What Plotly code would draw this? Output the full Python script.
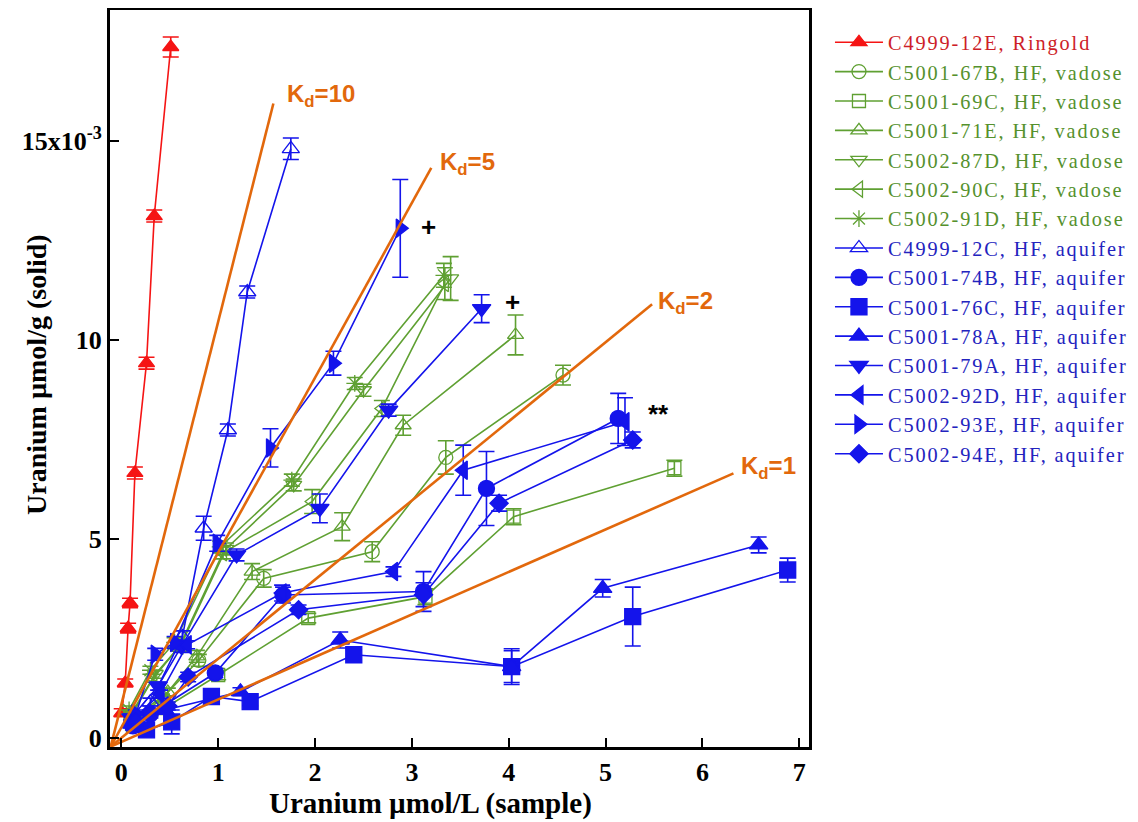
import plotly.graph_objects as go

# ---------------- data (solid U in units of 1e-3 umol/g) ----------------
x_12E = [0.004, 0.04, 0.07, 0.09, 0.14, 0.26, 0.34, 0.51]
y_12E = [0.63, 1.38, 2.76, 3.39, 6.66, 9.42, 13.12, 17.37]
e_12E = [0.10, 0.10, 0.12, 0.12, 0.15, 0.15, 0.15, 0.25]

x_67B = [0.15, 0.42, 0.80, 1.47, 2.59, 3.35, 4.56]
y_67B = [0.45, 1.00, 1.95, 4.01, 4.68, 7.05, 9.12]
e_67B = [0.10, 0.10, 0.15, 0.22, 0.25, 0.42, 0.25]

x_69C = [0.12, 0.45, 1.00, 1.93, 3.14, 4.05, 5.71]
y_69C = [0.30, 0.75, 1.58, 3.01, 3.55, 5.56, 6.78]
e_69C = [0.10, 0.10, 0.12, 0.12, 0.20, 0.20, 0.20]

x_71E = [0.13, 0.48, 0.78, 1.35, 2.28, 2.91, 4.07]
y_71E = [0.50, 1.15, 2.05, 4.18, 5.31, 7.86, 10.13]
e_71E = [0.10, 0.10, 0.15, 0.20, 0.35, 0.25, 0.50]

x_87D = [0.10, 0.35, 0.62, 1.08, 1.78, 2.50, 3.40]
y_87D = [0.60, 1.60, 2.35, 4.75, 6.36, 8.74, 11.55]
e_87D = [0.10, 0.10, 0.12, 0.15, 0.15, 0.15, 0.55]

x_90C = [0.10, 0.33, 0.60, 1.05, 1.97, 2.69, 3.34]
y_90C = [0.55, 1.50, 2.30, 4.65, 5.94, 8.28, 11.42]
e_90C = [0.10, 0.10, 0.12, 0.15, 0.30, 0.20, 0.40]

x_91D = [0.08, 0.30, 0.55, 1.02, 1.76, 2.41, 3.33]
y_91D = [0.70, 1.70, 2.40, 4.80, 6.48, 8.91, 11.63]
e_91D = [0.10, 0.10, 0.12, 0.15, 0.15, 0.15, 0.30]

x_12C = [0.12, 0.30, 0.63, 0.85, 1.10, 1.30, 1.75]
y_12C = [0.40, 0.90, 2.54, 5.27, 7.74, 11.21, 14.81]
e_12C = [0.10, 0.10, 0.15, 0.30, 0.15, 0.15, 0.27]

x_74B = [0.12, 0.30, 0.97, 1.67, 3.12, 3.77, 5.13]
y_74B = [0.30, 0.60, 1.63, 3.59, 3.68, 6.27, 8.03]
e_74B = [0.10, 0.10, 0.12, 0.20, 0.50, 0.93, 0.63]

x_76C = [0.26, 0.52, 0.93, 1.33, 2.40, 4.03, 5.28, 6.88]
y_76C = [0.20, 0.40, 1.04, 0.91, 2.09, 1.79, 3.05, 4.22]
e_76C = [0.10, 0.30, 0.10, 0.10, 0.12, 0.45, 0.74, 0.30]

x_78A = [0.10, 0.45, 1.23, 2.26, 4.03, 4.97, 6.58]
y_78A = [0.35, 0.70, 1.16, 2.46, 1.79, 3.76, 4.85]
e_78A = [0.10, 0.10, 0.10, 0.20, 0.40, 0.22, 0.20]

x_79A = [0.10, 0.38, 0.62, 1.19, 2.05, 2.76, 3.72]
y_79A = [0.50, 1.30, 2.30, 4.60, 5.77, 8.24, 10.79]
e_79A = [0.10, 0.10, 0.15, 0.15, 0.36, 0.15, 0.35]

x_92D = [0.12, 0.40, 0.68, 1.66, 2.81, 3.53, 5.20]
y_92D = [0.45, 1.10, 2.34, 3.64, 4.18, 6.73, 7.95]
e_92D = [0.10, 0.10, 0.10, 0.20, 0.12, 0.63, 0.60]

x_93E = [0.15, 0.35, 0.55, 0.99, 1.54, 2.19, 2.88]
y_93E = [0.60, 2.10, 2.40, 4.89, 7.29, 9.42, 12.81]
e_93E = [0.10, 0.15, 0.15, 0.20, 0.48, 0.30, 1.23]

x_94E = [0.15, 0.48, 0.69, 1.83, 3.12, 3.90, 5.28]
y_94E = [0.40, 0.80, 1.53, 3.22, 3.60, 5.90, 7.49]
e_94E = [0.10, 0.10, 0.12, 0.12, 0.30, 0.20, 0.20]

names = ["C4999-12E, Ringold",
         "C5001-67B, HF, vadose", "C5001-69C, HF, vadose", "C5001-71E, HF, vadose",
         "C5002-87D, HF, vadose", "C5002-90C, HF, vadose", "C5002-91D, HF, vadose",
         "C4999-12C, HF, aquifer", "C5001-74B, HF, aquifer", "C5001-76C, HF, aquifer",
         "C5001-78A, HF, aquifer", "C5001-79A, HF, aquifer", "C5002-92D, HF, aquifer",
         "C5002-93E, HF, aquifer", "C5002-94E, HF, aquifer"]

# Kd reference lines (from plot corner to end point)
kd_values = [10, 5, 2, 1]
kd_start_x = [-0.11, -0.11, -0.11, -0.11]
kd_start_y = [-0.22, -0.22, -0.22, -0.22]
kd_end_x = [1.57, 3.20, 5.48, 6.32]
kd_end_y = [15.95, 14.33, 10.90, 6.65]
kd_label_x = [1.69, 3.27, 5.52, 6.38]
kd_label_y = [16.15, 14.45, 10.95, 6.80]

# note marks
note_text = ["+", "+", "**"]
note_x = [3.07, 3.94, 5.42]
note_y = [12.85, 10.95, 8.15]

x_ticks = [0, 1, 2, 3, 4, 5, 6, 7]
y_ticks = [0, 5, 10, 15]
y_ticktext = ["0", "5", "10", "15x10<sup>-3</sup>"]

x_title = "Uranium µmol/L (sample)"
y_title = "Uranium µmol/g (solid)"

# ---------------- styling ----------------
RED = "rgb(245,20,20)"
GREEN = "rgb(95,160,50)"
BLUE = "rgb(20,20,235)"
ORANGE = "rgb(226,104,12)"
TXT = {RED: "rgb(205,30,40)", GREEN: "rgb(85,145,45)", BLUE: "rgb(35,35,190)"}
SERIF = "Liberation Serif, Times New Roman, serif"
SANS = "Liberation Sans, Arial, sans-serif"

series = [
    (x_12E, y_12E, e_12E, RED, "triangle-up", 14),
    (x_67B, y_67B, e_67B, GREEN, "circle-open", 14),
    (x_69C, y_69C, e_69C, GREEN, "square-open", 13),
    (x_71E, y_71E, e_71E, GREEN, "triangle-up-open", 14),
    (x_87D, y_87D, e_87D, GREEN, "triangle-down-open", 14),
    (x_90C, y_90C, e_90C, GREEN, "triangle-left-open", 14),
    (x_91D, y_91D, e_91D, GREEN, "asterisk-open", 14),
    (x_12C, y_12C, e_12C, BLUE, "triangle-up-open", 15),
    (x_74B, y_74B, e_74B, BLUE, "circle", 16),
    (x_76C, y_76C, e_76C, BLUE, "square", 16),
    (x_78A, y_78A, e_78A, BLUE, "triangle-up", 16),
    (x_79A, y_79A, e_79A, BLUE, "triangle-down", 16),
    (x_92D, y_92D, e_92D, BLUE, "triangle-left", 16),
    (x_93E, y_93E, e_93E, BLUE, "triangle-right", 16),
    (x_94E, y_94E, e_94E, BLUE, "diamond", 14),
]

fig = go.Figure()
for (xs, ys, es, col, sym, sz), nm in zip(series, names):
    fig.add_trace(go.Scatter(
        x=xs, y=ys, mode="lines+markers",
        name='<span style="color:%s;letter-spacing:1.9px">%s</span>' % (TXT[col], nm),
        line=dict(color=col, width=1.6),
        marker=dict(symbol=sym, size=sz, color=col,
                    line=dict(color=col, width=1.3)),
        error_y=dict(type="data", array=es, visible=True, color=col,
                     thickness=1.6, width=8),
    ))

for i, kd in enumerate(kd_values):
    fig.add_trace(go.Scatter(
        x=[kd_start_x[i], kd_end_x[i]], y=[kd_start_y[i], kd_end_y[i]],
        mode="lines", line=dict(color=ORANGE, width=2.6),
        showlegend=False, hoverinfo="skip"))
    fig.add_annotation(x=kd_label_x[i], y=kd_label_y[i], xref="x", yref="y",
                       text="K<sub>d</sub>=%d" % kd, showarrow=False,
                       xanchor="left", yanchor="middle",
                       font=dict(family=SANS, size=24, color=ORANGE, weight="bold"))

for t, nx, ny in zip(note_text, note_x, note_y):
    fig.add_annotation(x=nx, y=ny, xref="x", yref="y", text="<b>%s</b>" % t,
                       showarrow=False, xanchor="left", yanchor="middle",
                       font=dict(family=SANS, size=26, color="black"))

# axis titles as annotations (positioned like the reference)
fig.add_annotation(x=0.458, y=-0.076, xref="paper", yref="paper", text=x_title,
                   showarrow=False, xanchor="center", yanchor="middle",
                   font=dict(family=SERIF, size=29, color="black", weight="bold"))
fig.add_annotation(x=-0.106, y=0.506, xref="paper", yref="paper", text=y_title,
                   showarrow=False, xanchor="center", yanchor="middle", textangle=-90,
                   font=dict(family=SERIF, size=28, color="black", weight="bold"))

axis_font = dict(family=SERIF, size=26, color="black", weight="bold")
fig.update_layout(
    width=1138, height=822,
    margin=dict(l=102, r=337, t=2, b=83, autoexpand=False),
    paper_bgcolor="white", plot_bgcolor="white",
    showlegend=True,
    legend=dict(x=1.03, y=0.983, xanchor="left", yanchor="top",
                font=dict(family=SERIF, size=20.3),
                bgcolor="rgba(0,0,0,0)", itemwidth=48, tracegroupgap=0),
    xaxis=dict(range=[-0.117, 7.1], tickvals=x_ticks,
               ticks="inside", ticklen=9, tickwidth=1.5, tickcolor="black",
               showline=True, linewidth=3, linecolor="black", mirror=True,
               showgrid=False, zeroline=False, tickfont=axis_font),
    yaxis=dict(range=[-0.23, 18.3], tickvals=y_ticks, ticktext=y_ticktext,
               ticks="inside", ticklen=9, tickwidth=1.5, tickcolor="black",
               showline=True, linewidth=3, linecolor="black", mirror=True,
               showgrid=False, zeroline=False, tickfont=axis_font),
)

fig.write_html("out.html")
